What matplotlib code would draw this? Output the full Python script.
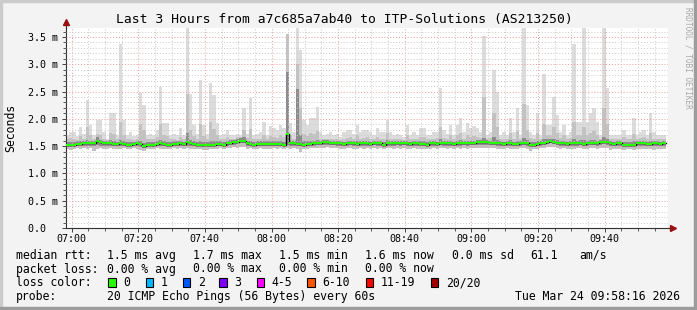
import numpy as np
import matplotlib
matplotlib.use("Agg")
import matplotlib.pyplot as plt
from matplotlib.patches import Rectangle

plt.rcParams["font.family"] = "DejaVu Sans Mono"

W, H = 697, 310

# one sample per minute, first one at 06:58:16 (x = minutes after 07:00)
start_min = -1.73

rtt_median = [
    1.52, 1.52, 1.53, 1.54, 1.54, 1.55, 1.55, 1.55, 1.56, 1.60, 1.57, 1.55, 1.55, 1.56, 1.54, 1.54, 1.55, 1.54, 1.53, 1.53,
    1.54, 1.55, 1.54, 1.50, 1.52, 1.53, 1.53, 1.54, 1.55, 1.54, 1.53, 1.53, 1.54, 1.54, 1.55, 1.54, 1.58, 1.55, 1.54, 1.53,
    1.53, 1.52, 1.52, 1.53, 1.53, 1.54, 1.54, 1.53, 1.55, 1.56, 1.57, 1.58, 1.60, 1.60, 1.55, 1.54, 1.53, 1.54, 1.54, 1.54,
    1.54, 1.54, 1.54, 1.54, 1.54, 1.53, 1.72, 1.55, 1.55, 1.54, 1.54, 1.53, 1.54, 1.54, 1.55, 1.56, 1.56, 1.57, 1.57, 1.56,
    1.56, 1.55, 1.55, 1.54, 1.55, 1.56, 1.55, 1.54, 1.55, 1.55, 1.55, 1.54, 1.56, 1.55, 1.55, 1.53, 1.55, 1.55, 1.55, 1.56,
    1.55, 1.56, 1.55, 1.54, 1.55, 1.55, 1.54, 1.54, 1.53, 1.55, 1.55, 1.54, 1.56, 1.55, 1.55, 1.55, 1.54, 1.55, 1.55, 1.56,
    1.55, 1.56, 1.56, 1.57, 1.57, 1.57, 1.57, 1.56, 1.56, 1.55, 1.55, 1.54, 1.55, 1.55, 1.54, 1.54, 1.55, 1.56, 1.55, 1.53,
    1.53, 1.54, 1.55, 1.56, 1.58, 1.59, 1.58, 1.56, 1.55, 1.55, 1.54, 1.55, 1.55, 1.55, 1.56, 1.54, 1.55, 1.56, 1.56, 1.55,
    1.57, 1.58, 1.57, 1.55, 1.54, 1.55, 1.55, 1.53, 1.53, 1.53, 1.53, 1.55, 1.55, 1.55, 1.54, 1.54, 1.55, 1.55, 1.54, 1.55,
]

rtt_min = [
    1.44, 1.43, 1.45, 1.46, 1.45, 1.46, 1.44, 1.46, 1.42, 1.45, 1.46, 1.45, 1.44, 1.46, 1.45, 1.44, 1.45, 1.46, 1.44, 1.45,
    1.46, 1.45, 1.43, 1.41, 1.44, 1.45, 1.44, 1.46, 1.45, 1.45, 1.44, 1.45, 1.46, 1.45, 1.46, 1.45, 1.46, 1.45, 1.44, 1.44,
    1.44, 1.43, 1.43, 1.45, 1.44, 1.45, 1.46, 1.44, 1.46, 1.47, 1.48, 1.47, 1.49, 1.48, 1.45, 1.46, 1.44, 1.45, 1.46, 1.45,
    1.44, 1.45, 1.46, 1.45, 1.46, 1.44, 1.46, 1.45, 1.46, 1.44, 1.40, 1.44, 1.45, 1.46, 1.46, 1.47, 1.47, 1.47, 1.48, 1.47,
    1.46, 1.46, 1.45, 1.44, 1.46, 1.47, 1.45, 1.44, 1.46, 1.45, 1.46, 1.45, 1.46, 1.45, 1.46, 1.44, 1.46, 1.46, 1.45, 1.47,
    1.45, 1.46, 1.45, 1.44, 1.46, 1.45, 1.44, 1.45, 1.44, 1.45, 1.46, 1.45, 1.46, 1.46, 1.45, 1.46, 1.45, 1.46, 1.45, 1.46,
    1.45, 1.46, 1.46, 1.47, 1.47, 1.46, 1.47, 1.46, 1.46, 1.45, 1.45, 1.44, 1.46, 1.45, 1.44, 1.45, 1.46, 1.46, 1.45, 1.41,
    1.44, 1.45, 1.46, 1.46, 1.48, 1.48, 1.48, 1.46, 1.45, 1.46, 1.45, 1.44, 1.45, 1.46, 1.46, 1.44, 1.45, 1.46, 1.46, 1.45,
    1.47, 1.47, 1.46, 1.43, 1.45, 1.44, 1.45, 1.43, 1.44, 1.44, 1.43, 1.45, 1.45, 1.44, 1.45, 1.44, 1.43, 1.45, 1.44, 1.45,
]

rtt_q1 = [
    1.48, 1.48, 1.49, 1.50, 1.50, 1.51, 1.50, 1.51, 1.51, 1.52, 1.51, 1.50, 1.50, 1.51, 1.50, 1.50, 1.50, 1.50, 1.49, 1.49,
    1.50, 1.50, 1.49, 1.46, 1.48, 1.49, 1.49, 1.50, 1.50, 1.50, 1.49, 1.49, 1.50, 1.50, 1.51, 1.50, 1.51, 1.50, 1.50, 1.49,
    1.49, 1.48, 1.48, 1.49, 1.49, 1.50, 1.50, 1.49, 1.51, 1.52, 1.53, 1.54, 1.55, 1.55, 1.51, 1.50, 1.49, 1.50, 1.50, 1.50,
    1.50, 1.50, 1.50, 1.50, 1.50, 1.49, 1.52, 1.51, 1.51, 1.50, 1.50, 1.49, 1.50, 1.50, 1.51, 1.52, 1.52, 1.53, 1.53, 1.52,
    1.52, 1.51, 1.51, 1.50, 1.51, 1.52, 1.51, 1.50, 1.51, 1.51, 1.51, 1.50, 1.52, 1.51, 1.51, 1.49, 1.51, 1.51, 1.51, 1.52,
    1.51, 1.52, 1.51, 1.50, 1.51, 1.51, 1.50, 1.50, 1.49, 1.51, 1.51, 1.50, 1.52, 1.51, 1.51, 1.51, 1.50, 1.51, 1.51, 1.52,
    1.51, 1.52, 1.52, 1.53, 1.53, 1.53, 1.53, 1.52, 1.52, 1.51, 1.51, 1.50, 1.51, 1.51, 1.50, 1.50, 1.51, 1.52, 1.51, 1.49,
    1.49, 1.50, 1.51, 1.52, 1.54, 1.55, 1.54, 1.52, 1.51, 1.51, 1.50, 1.51, 1.51, 1.51, 1.52, 1.50, 1.51, 1.52, 1.52, 1.51,
    1.53, 1.54, 1.53, 1.51, 1.50, 1.51, 1.51, 1.49, 1.49, 1.49, 1.49, 1.51, 1.51, 1.51, 1.50, 1.50, 1.51, 1.51, 1.50, 1.51,
]

rtt_q3 = [
    1.57, 1.57, 1.58, 1.59, 1.59, 1.60, 1.62, 1.60, 1.60, 1.66, 1.62, 1.59, 1.59, 1.61, 1.59, 1.58, 1.62, 1.59, 1.57, 1.57,
    1.58, 1.59, 1.60, 1.56, 1.57, 1.58, 1.58, 1.59, 1.61, 1.59, 1.58, 1.58, 1.59, 1.59, 1.60, 1.58, 1.75, 1.62, 1.59, 1.58,
    1.60, 1.57, 1.57, 1.60, 1.60, 1.59, 1.59, 1.58, 1.60, 1.61, 1.62, 1.63, 1.65, 1.66, 1.60, 1.60, 1.58, 1.59, 1.59, 1.59,
    1.59, 1.59, 1.59, 1.59, 1.60, 1.58, 2.86, 1.60, 1.60, 2.55, 1.70, 1.59, 1.60, 1.60, 1.60, 1.62, 1.60, 1.61, 1.61, 1.60,
    1.60, 1.59, 1.59, 1.58, 1.59, 1.60, 1.59, 1.60, 1.59, 1.60, 1.59, 1.58, 1.60, 1.60, 1.59, 1.58, 1.61, 1.59, 1.59, 1.60,
    1.59, 1.60, 1.60, 1.58, 1.59, 1.59, 1.59, 1.59, 1.58, 1.59, 1.59, 1.58, 1.63, 1.59, 1.59, 1.60, 1.58, 1.60, 1.61, 1.60,
    1.60, 1.60, 1.60, 1.61, 1.61, 1.65, 1.61, 1.60, 1.66, 1.62, 1.59, 1.58, 1.59, 1.61, 1.58, 1.60, 1.59, 1.65, 1.61, 1.57,
    1.57, 1.60, 1.59, 1.63, 1.63, 1.64, 1.64, 1.61, 1.59, 1.60, 1.58, 1.59, 1.63, 1.60, 1.61, 1.62, 1.60, 1.61, 1.62, 1.60,
    1.61, 1.66, 1.63, 1.59, 1.58, 1.59, 1.59, 1.57, 1.57, 1.57, 1.60, 1.59, 1.59, 1.60, 1.58, 1.60, 1.59, 1.59, 1.58, 1.59,
]

rtt_p90 = [
    1.63, 1.65, 1.64, 1.62, 1.68, 1.64, 1.85, 1.70, 1.63, 1.72, 1.70, 1.64, 1.61, 1.75, 1.72, 1.63, 1.95, 1.70, 1.63, 1.64,
    1.62, 1.63, 1.90, 1.80, 1.63, 1.64, 1.63, 1.66, 1.90, 1.70, 1.68, 1.63, 1.64, 1.62, 1.66, 1.63, 2.45, 1.80, 1.68, 1.64,
    1.90, 1.68, 1.64, 1.95, 1.82, 1.70, 1.63, 1.64, 1.66, 1.63, 1.64, 1.66, 1.66, 1.80, 1.65, 1.82, 1.63, 1.64, 1.64, 1.70,
    1.63, 1.68, 1.66, 1.65, 1.70, 1.66, 3.56, 1.70, 1.64, 3.00, 2.20, 1.72, 1.68, 1.74, 1.72, 1.78, 1.64, 1.63, 1.64, 1.64,
    1.63, 1.64, 1.62, 1.64, 1.65, 1.66, 1.64, 1.70, 1.64, 1.65, 1.66, 1.64, 1.63, 1.67, 1.64, 1.64, 1.74, 1.64, 1.63, 1.64,
    1.63, 1.62, 1.70, 1.63, 1.64, 1.63, 1.66, 1.66, 1.63, 1.63, 1.64, 1.65, 1.85, 1.65, 1.64, 1.70, 1.63, 1.70, 1.74, 1.64,
    1.70, 1.66, 1.68, 1.66, 1.65, 2.40, 1.63, 1.65, 2.10, 1.85, 1.63, 1.64, 1.63, 1.74, 1.64, 1.78, 1.63, 2.27, 1.80, 1.65,
    1.63, 1.75, 1.63, 1.90, 1.70, 1.70, 1.85, 1.74, 1.65, 1.70, 1.63, 1.65, 1.95, 1.70, 1.70, 1.85, 1.70, 1.75, 1.78, 1.70,
    1.64, 2.20, 1.90, 1.63, 1.63, 1.63, 1.63, 1.66, 1.63, 1.63, 1.72, 1.63, 1.65, 1.66, 1.63, 1.74, 1.64, 1.63, 1.63, 1.63,
]

rtt_max = [
    1.70, 1.76, 1.76, 1.68, 1.85, 1.73, 2.35, 1.89, 1.70, 1.98, 1.98, 1.76, 1.64, 2.10, 2.10, 1.70, 3.37, 1.98, 1.70, 1.76,
    1.68, 1.70, 2.48, 2.25, 1.70, 1.73, 1.70, 1.80, 2.58, 1.92, 1.92, 1.70, 1.73, 1.70, 1.83, 1.70, 3.90, 2.45, 1.89, 1.73,
    2.71, 1.89, 1.73, 2.65, 2.44, 1.92, 1.70, 1.73, 1.80, 1.70, 1.70, 1.73, 1.70, 2.19, 1.73, 2.39, 1.70, 1.73, 1.76, 1.95,
    1.70, 1.86, 1.83, 1.79, 1.89, 1.83, 3.56, 1.92, 1.76, 3.90, 3.26, 1.98, 1.89, 2.01, 2.01, 2.22, 1.76, 1.70, 1.73, 1.76,
    1.70, 1.73, 1.67, 1.76, 1.79, 1.79, 1.73, 1.89, 1.76, 1.79, 1.79, 1.76, 1.70, 1.83, 1.76, 1.76, 1.98, 1.76, 1.70, 1.73,
    1.70, 1.67, 1.89, 1.70, 1.76, 1.70, 1.83, 1.83, 1.70, 1.70, 1.76, 1.76, 2.56, 1.79, 1.73, 1.89, 1.70, 1.89, 2.01, 1.76,
    1.92, 1.83, 1.86, 1.83, 1.76, 3.52, 1.70, 1.76, 2.89, 2.50, 1.70, 1.76, 1.70, 2.01, 1.76, 2.19, 1.70, 3.90, 2.25, 1.76,
    1.70, 2.10, 1.70, 2.82, 1.89, 1.89, 2.40, 2.07, 1.76, 1.89, 1.70, 1.76, 3.37, 1.95, 1.95, 3.90, 1.95, 2.10, 2.19, 1.95,
    1.70, 3.90, 2.56, 1.70, 1.70, 1.70, 1.70, 1.79, 1.70, 1.70, 2.01, 1.70, 1.76, 1.79, 1.70, 2.10, 1.76, 1.70, 1.70, 1.70,
]

x_ticks = [0, 20, 40, 60, 80, 100, 120, 140, 160]
x_labels = ["07:00", "07:20", "07:40", "08:00", "08:20", "08:40", "09:00", "09:20", "09:40"]
y_ticks = [0.0, 0.5, 1.0, 1.5, 2.0, 2.5, 3.0, 3.5]
y_labels = ["0.0  ", "0.5 m", "1.0 m", "1.5 m", "2.0 m", "2.5 m", "3.0 m", "3.5 m"]

loss_labels = ["0", "1", "2", "3", "4-5", "6-10", "11-19", "20/20"]
loss_colors = ["#26ff00", "#00b8ff", "#0059ff", "#7e00ff", "#ff00ff", "#ff5500", "#ff0000", "#a10000"]
loss_box_x = [108.3, 145.7, 182.7, 219.3, 256.7, 307.3, 365.7, 430.7]


def fx(x):
    return x / W


def fy(y):
    return 1 - y / H


fig = plt.figure(figsize=(W / 100, H / 100), dpi=100, facecolor="#f3f3f3")

# rrdtool style shaded frame
fig.patches.append(Rectangle((0, 0), fx(2), 1, transform=fig.transFigure, color="#cbcbcb", zorder=0))
fig.patches.append(Rectangle((0, fy(2)), 1, 2 / H, transform=fig.transFigure, color="#cbcbcb", zorder=0))
fig.patches.append(Rectangle((fx(W - 3), 0), fx(3), 1, transform=fig.transFigure, color="#9c9c9c", zorder=0))
fig.patches.append(Rectangle((0, 0), 1, 3 / H, transform=fig.transFigure, color="#9c9c9c", zorder=0))

ax = fig.add_axes([fx(66), fy(228), fx(668 - 66), (228 - 28) / H])
ax.set_facecolor("white")

n = len(rtt_median)
edges = start_min + np.arange(n + 1)


def ext(v):
    return np.append(v, v[-1])


ax.fill_between(edges, ext(rtt_min), ext(rtt_max), step="post", color="#dcdcdc", lw=0, zorder=1)
ax.fill_between(edges, ext(rtt_min), ext(rtt_p90), step="post", color="#c2c2c2", lw=0, zorder=1.1)
ax.fill_between(edges, ext(rtt_q1), ext(rtt_q3), step="post", color="#8c8c8c", lw=0, zorder=1.2)

ax.step(edges, ext(rtt_median), where="post", color="black", lw=1.0, zorder=3)
ax.hlines(rtt_median, edges[:-1], edges[1:], color="#26ff00", lw=1.5, zorder=3.1)

ax.set_xlim(-1.68, 179.0)
ax.set_ylim(0, 3.665)

ax.set_xticks(x_ticks)
ax.set_xticklabels(x_labels)
ax.set_xticks(np.arange(0, 180, 5), minor=True)
ax.set_yticks(y_ticks)
ax.set_yticklabels(y_labels)
ax.set_yticks(np.arange(0, 3.7, 0.1), minor=True)

ax.set_axisbelow(False)
ax.grid(which="minor", color="#c8c8c8", linestyle=(0, (1, 2)), lw=0.7, zorder=2)
ax.grid(which="major", color="#f09a9a", linestyle=(0, (1, 2)), lw=0.7, zorder=2.1)

ax.tick_params(axis="both", which="major", labelsize=7.2, length=3, width=0.7, color="#404040", pad=1.5)
ax.tick_params(axis="both", which="minor", length=2, width=0.6, color="#404040")
ax.tick_params(axis="y", pad=3)

for s in ["top", "right"]:
    ax.spines[s].set_visible(False)
for s in ["left", "bottom"]:
    ax.spines[s].set_color("#303030")
    ax.spines[s].set_linewidth(0.8)

# axis arrows
ax.plot([1.0, 1.008], [0, 0], transform=ax.transAxes, color="#303030", lw=0.8, clip_on=False)
ax.plot([1.008], [0], transform=ax.transAxes, marker=">", ms=4, color="#9a1010", clip_on=False)
ax.plot([0, 0], [1.0, 1.03], transform=ax.transAxes, color="#303030", lw=0.8, clip_on=False)
ax.plot([0], [1.03], transform=ax.transAxes, marker="^", ms=4, color="#9a1010", clip_on=False)

fig.text(fx(344), fy(23.3), "Last 3 Hours from a7c685a7ab40 to ITP-Solutions (AS213250)",
         ha="center", va="baseline", fontsize=9.4)
fig.text(fx(11), fy(128), "Seconds", rotation=90, ha="center", va="center", fontsize=8.3)
fig.text(fx(688), fy(58), "RRDTOOL / TOBI OETIKER", rotation=270, ha="center", va="center",
         fontsize=5.6, color="#a8a8a8")

fs = 8.3
base = [258.8, 272.5, 286.2, 299.8]
fig.text(fx(16), fy(base[0]), "median rtt:", fontsize=fs, va="baseline")
for xp, t in zip([107.3, 193.3, 279.3, 365.0, 451.7, 530.0, 579.3],
                 ["1.5 ms avg", "1.7 ms max", "1.5 ms min", "1.6 ms now", "0.0 ms sd", "61.1", "am/s"]):
    fig.text(fx(xp), fy(base[0]), t, fontsize=fs, va="baseline")

fig.text(fx(16), fy(base[1]), "packet loss:", fontsize=fs, va="baseline")
for xp, t in zip([107.3, 193.3, 279.3, 365.0],
                 ["0.00 % avg", "0.00 % max", "0.00 % min", "0.00 % now"]):
    fig.text(fx(xp), fy(base[1]), t, fontsize=fs, va="baseline")

fig.text(fx(16), fy(base[2]), "loss color:", fontsize=fs, va="baseline")
for bx, lab, col in zip(loss_box_x, loss_labels, loss_colors):
    fig.patches.append(Rectangle((fx(bx), fy(286.5)), fx(7.5), 8.2 / H, transform=fig.transFigure,
                                 facecolor=col, edgecolor="black", lw=0.8))
    fig.text(fx(bx + 15), fy(base[2]), lab, fontsize=fs, va="baseline")

fig.text(fx(16), fy(base[3]), "probe:", fontsize=fs, va="baseline")
fig.text(fx(107.3), fy(base[3]), "20 ICMP Echo Pings (56 Bytes) every 60s", fontsize=fs, va="baseline")
fig.text(fx(680), fy(base[3]), "Tue Mar 24 09:58:16 2026", fontsize=fs, va="baseline", ha="right")

fig.savefig("out.png", dpi=100, facecolor=fig.get_facecolor())
